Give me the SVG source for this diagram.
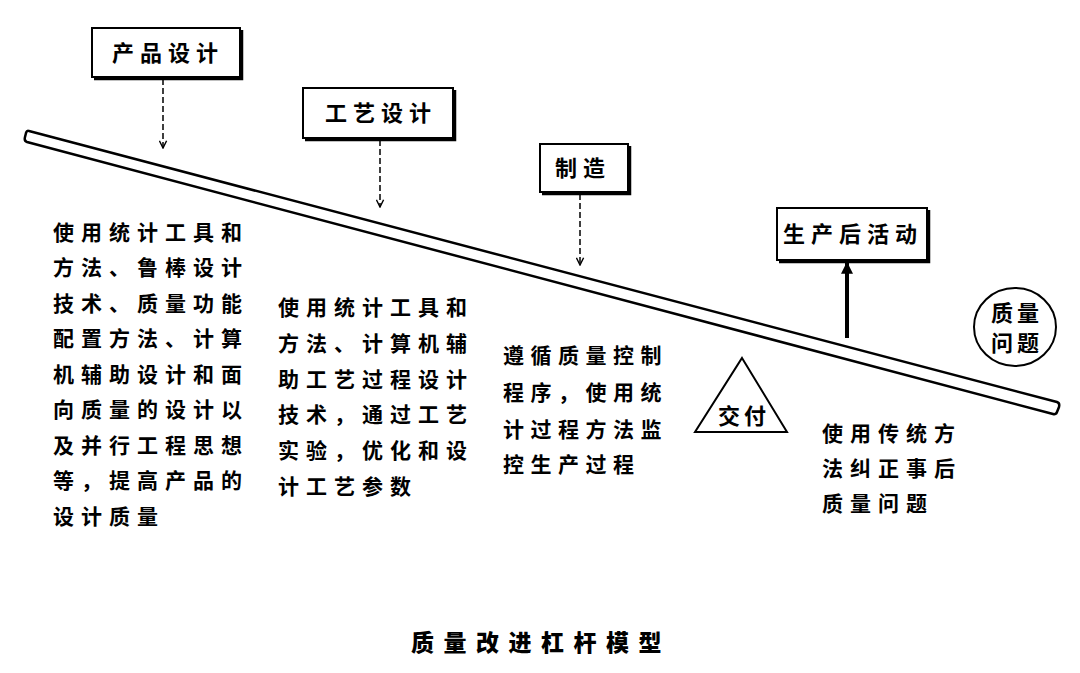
<svg xmlns="http://www.w3.org/2000/svg" width="1080" height="673" viewBox="0 0 1080 673">
<style>
.box{fill:#fff;stroke:#000;stroke-width:2}
.shadow{fill:none;stroke:#000;stroke-width:2.5}
.lbl{font-family:"Noto Sans CJK SC","Noto Sans CJK JP",sans-serif;font-size:22px;font-weight:700;fill:#000;letter-spacing:6px}
.body{font-family:"Noto Sans CJK SC","Noto Sans CJK JP",sans-serif;font-size:21px;font-weight:700;fill:#000;letter-spacing:7px}
.title{font-family:"Noto Sans CJK SC","Noto Sans CJK JP",sans-serif;font-size:23px;font-weight:900;fill:#000;letter-spacing:9.5px}
.dash{stroke:#000;stroke-width:1.5;stroke-dasharray:6 3;fill:none}
.solid{stroke:#000;stroke-width:4;fill:none}
</style>
<defs>
<marker id="headDown" viewBox="0 0 10 10" refX="9" refY="5" markerWidth="9" markerHeight="9" markerUnits="userSpaceOnUse" orient="auto">
<path d="M1,1 L9,5 L1,9" fill="none" stroke="#000" stroke-width="1.6"/>
</marker>
<marker id="headUp" viewBox="0 0 10 10" refX="9" refY="5" markerWidth="12" markerHeight="14" markerUnits="userSpaceOnUse" orient="auto">
<path d="M0,0 L10,5 L0,10 Z" fill="#000"/>
</marker>
</defs>
<rect width="1080" height="673" fill="#fff"/>

<g id="lever">
<path d="M29,131 L1057,402 Q1060,403 1059,407 L1057,412 Q1056,415 1053,414 L27,142 Q24,141 25,137 L26,133 Q27,130 29,131 Z" fill="#fff" stroke="#000" stroke-width="2.5"/>
</g>

<g id="connectors">
<line class="dash" x1="163" y1="79" x2="163" y2="148" marker-end="url(#headDown)"/>
<line class="dash" x1="380" y1="140" x2="380" y2="207" marker-end="url(#headDown)"/>
<line class="dash" x1="580" y1="194" x2="580" y2="265" marker-end="url(#headDown)"/>
<line class="solid" x1="847" y1="338" x2="847" y2="263" marker-end="url(#headUp)"/>
</g>

<g id="node-product-design">
<polyline class="shadow" points="242,30 242,79 94,79"/>
<rect class="box" x="92" y="28" width="148" height="49"/>
<text class="lbl" x="112" y="61">产品设计</text>
</g>

<g id="node-process-design">
<polyline class="shadow" points="455,90 455,140 305,140"/>
<rect class="box" x="303" y="88" width="150" height="50"/>
<text class="lbl" x="325" y="121">工艺设计</text>
</g>

<g id="node-manufacturing">
<polyline class="shadow" points="630,146 630,194 542,194"/>
<rect class="box" x="540" y="144" width="88" height="48"/>
<text class="lbl" x="555" y="176">制造</text>
</g>

<g id="node-post-production">
<polyline class="shadow" points="929,210 929,262 779,262"/>
<rect class="box" x="777" y="208" width="150" height="52"/>
<text class="lbl" x="783" y="242">生产后活动</text>
</g>

<g id="node-quality-problem">
<ellipse cx="1015" cy="327" rx="41" ry="39" fill="#fff" stroke="#000" stroke-width="2"/>
<text class="lbl" x="991" y="321" style="letter-spacing:4px">质量</text>
<text class="lbl" x="991" y="351" style="letter-spacing:4px">问题</text>
</g>

<g id="node-delivery">
<polygon points="742,358 787,432 695,432" fill="#fff" stroke="#000" stroke-width="2"/>
<text class="lbl" x="718" y="424" style="letter-spacing:4px">交付</text>
</g>

<g id="text-design">
<text class="body" x="53" y="240">使用统计工具和</text>
<text class="body" x="53" y="275">方法、鲁棒设计</text>
<text class="body" x="53" y="311">技术、质量功能</text>
<text class="body" x="53" y="346">配置方法、计算</text>
<text class="body" x="53" y="382">机辅助设计和面</text>
<text class="body" x="53" y="417">向质量的设计以</text>
<text class="body" x="53" y="453">及并行工程思想</text>
<text class="body" x="53" y="488">等，提高产品的</text>
<text class="body" x="53" y="524">设计质量</text>
</g>

<g id="text-process">
<text class="body" x="278" y="315">使用统计工具和</text>
<text class="body" x="278" y="351">方法、计算机辅</text>
<text class="body" x="278" y="387">助工艺过程设计</text>
<text class="body" x="278" y="422">技术，通过工艺</text>
<text class="body" x="278" y="458">实验，优化和设</text>
<text class="body" x="278" y="494">计工艺参数</text>
</g>

<g id="text-manufacturing">
<text class="body" x="503" y="363" style="letter-spacing:6.5px">遵循质量控制</text>
<text class="body" x="503" y="400" style="letter-spacing:6.5px">程序，使用统</text>
<text class="body" x="503" y="437" style="letter-spacing:6.5px">计过程方法监</text>
<text class="body" x="503" y="472" style="letter-spacing:6.5px">控生产过程</text>
</g>

<g id="text-post">
<text class="body" x="822" y="441">使用传统方</text>
<text class="body" x="822" y="476">法纠正事后</text>
<text class="body" x="822" y="511">质量问题</text>
</g>

<g id="caption">
<text class="title" x="411" y="651">质量改进杠杆模型</text>
</g>
</svg>
